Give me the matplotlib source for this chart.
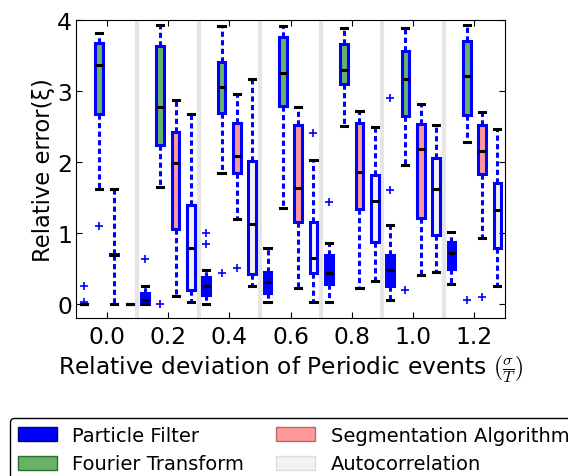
import matplotlib
matplotlib.use("Agg")
import matplotlib.pyplot as plt
import matplotlib.patches as mpatches

plt.rcParams["mathtext.fontset"] = "cm"

groups = [0.0, 0.2, 0.4, 0.6, 0.8, 1.0, 1.2]

# Particle Filter: lower whisker, q1, median, q3, upper whisker, outliers
pf_lo = [0.0, 0.0, 0.0, 0.03, 0.02, 0.06, 0.28]
pf_q1 = [0.0, 0.0, 0.13, 0.15, 0.28, 0.25, 0.49]
pf_med = [0.0, 0.06, 0.245, 0.31, 0.44, 0.47, 0.71]
pf_q3 = [0.0, 0.15, 0.38, 0.45, 0.68, 0.69, 0.87]
pf_hi = [0.0, 0.245, 0.47, 0.78, 0.85, 1.11, 1.01]
pf_fliers = [[0.25, 0.03], [0.63], [1.0, 0.84], [], [1.43], [2.9, 1.6], []]

# Fourier Transform
ft_lo = [1.61, 1.65, 1.84, 1.35, 2.50, 1.95, 2.28]
ft_q1 = [2.67, 2.23, 2.68, 2.78, 3.09, 2.65, 2.66]
ft_med = [3.36, 2.77, 3.05, 3.25, 3.29, 3.17, 3.21]
ft_q3 = [3.67, 3.63, 3.41, 3.75, 3.66, 3.56, 3.70]
ft_hi = [3.81, 3.92, 3.91, 3.91, 3.88, 3.88, 3.92]
ft_fliers = [[1.10], [0.0], [0.43], [], [], [0.2], [0.06]]

# Segmentation Algorithm
sg_lo = [0.0, 0.11, 1.19, 0.22, 0.22, 0.40, 0.92]
sg_q1 = [0.68, 1.05, 1.84, 1.15, 1.34, 1.21, 1.83]
sg_med = [0.69, 1.98, 2.08, 1.63, 1.85, 2.18, 2.15]
sg_q3 = [0.70, 2.42, 2.55, 2.52, 2.55, 2.53, 2.52]
sg_hi = [1.61, 2.87, 2.96, 2.77, 2.72, 2.81, 2.70]
sg_fliers = [[], [], [0.51], [], [], [], [0.1]]

# Autocorrelation
ac_lo = [0.0, 0.02, 0.25, 0.03, 0.32, 0.45, 0.245]
ac_q1 = [0.0, 0.20, 0.42, 0.43, 0.87, 0.97, 0.78]
ac_med = [0.0, 0.79, 1.12, 0.65, 1.45, 1.61, 1.32]
ac_q3 = [0.0, 1.39, 2.01, 1.155, 1.81, 2.05, 1.70]
ac_hi = [0.0, 2.67, 3.17, 2.02, 2.49, 2.52, 2.46]
ac_fliers = [[], [], [], [2.41], [], [], []]

labels = ["Particle Filter", "Fourier Transform", "Segmentation Algorithm", "Autocorrelation"]


def make_stats(lo, q1, med, q3, hi, fliers):
    return [
        dict(whislo=a, q1=b, med=c, q3=d, whishi=e, fliers=f)
        for a, b, c, d, e, f in zip(lo, q1, med, q3, hi, fliers)
    ]


methods = [
    (make_stats(pf_lo, pf_q1, pf_med, pf_q3, pf_hi, pf_fliers), (0, 0, 1, 1.0), -0.075),
    (make_stats(ft_lo, ft_q1, ft_med, ft_q3, ft_hi, ft_fliers), (0, 0.5, 0, 0.6), -0.025),
    (make_stats(sg_lo, sg_q1, sg_med, sg_q3, sg_hi, sg_fliers), (1, 0, 0, 0.4), 0.025),
    (make_stats(ac_lo, ac_q1, ac_med, ac_q3, ac_hi, ac_fliers), (0.5, 0.5, 0.5, 0.1), 0.075),
]

fig = plt.figure(figsize=(5.68, 4.77), dpi=100)
ax = fig.add_axes([76 / 568, 1 - 319 / 477, (505 - 76) / 568, (319 - 20.7) / 477])

# light separators between groups
for g in groups[:-1]:
    ax.axvline(g + 0.1, color="0.9", lw=3, zorder=0)

lw = 2.2
for stats, face, off in methods:
    ax.bxp(
        stats,
        positions=[g + off for g in groups],
        widths=0.025,
        capwidths=0.02,
        patch_artist=True,
        manage_ticks=False,
        boxprops=dict(facecolor=face, edgecolor="blue", linewidth=lw),
        whiskerprops=dict(color="blue", linewidth=lw, linestyle=(0, (1.7, 1.1))),
        capprops=dict(color="black", linewidth=lw),
        medianprops=dict(color="black", linewidth=lw),
        flierprops=dict(marker="+", markeredgecolor="blue", markersize=6, markeredgewidth=1.2),
    )

ax.set_xlim(-0.1, 1.3)
ax.set_ylim(-0.2, 4)
ax.set_xticks(groups)
ax.set_xticklabels(["%.1f" % g for g in groups])
ax.set_yticks([0, 1, 2, 3, 4])
ax.tick_params(direction="in", top=True, right=True, length=4, labelsize=16.8)
ax.tick_params(axis="x", pad=5)
ax.tick_params(axis="y", pad=3)

ax.set_xlabel(r"Relative deviation of Periodic events $(\frac{\sigma}{T})$", fontsize=16.8, labelpad=3)
ax.set_ylabel("Relative error(ξ)", fontsize=16.3, labelpad=1)

handles = [
    mpatches.Patch(facecolor=(0, 0, 1), edgecolor="#000080", label=labels[0]),
    mpatches.Patch(facecolor=(0, 0.5, 0, 0.6), edgecolor="#2e6b2e", label=labels[1]),
    mpatches.Patch(facecolor=(1, 0, 0, 0.4), edgecolor="#b36b6b", label=labels[2]),
    mpatches.Patch(facecolor=(0.5, 0.5, 0.5, 0.1), edgecolor="#dddddd", label=labels[3]),
]
leg = fig.legend(
    handles=handles,
    loc="upper left",
    bbox_to_anchor=(10 / 568, 1 - 419 / 477),
    ncol=2,
    fontsize=14,
    columnspacing=1.65,
    handletextpad=0.8,
    fancybox=True,
    framealpha=1,
    borderaxespad=0,
)
leg.get_frame().set_edgecolor("black")

fig.savefig("out.png", dpi=100)
